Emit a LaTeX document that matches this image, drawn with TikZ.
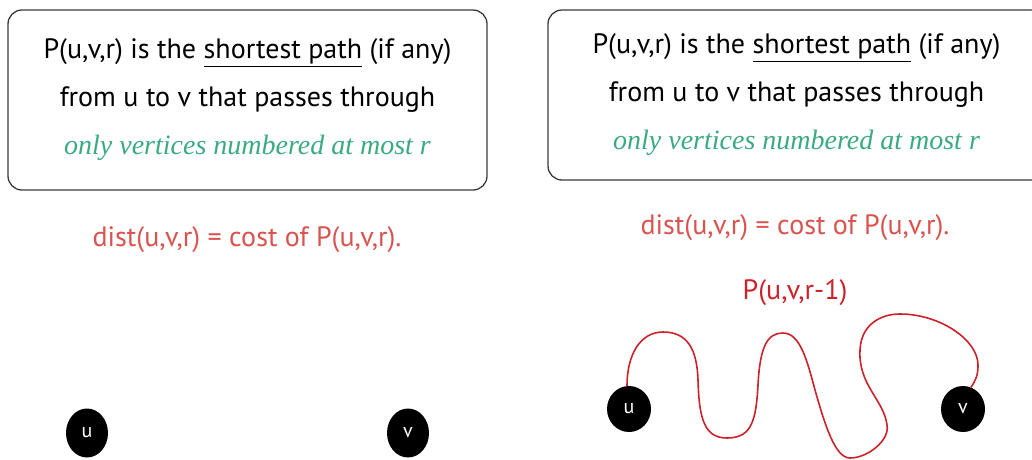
\documentclass[tikz,border=0pt]{standalone}
\usepackage{fontspec}
\setmainfont{PT Sans}
\newfontfamily\greenfont{Liberation Serif}
\usetikzlibrary{shapes.geometric}
\definecolor{distred}{HTML}{D9534F}
\definecolor{pathred}{HTML}{CC2229}
\definecolor{vgreen}{HTML}{3AAA80}
\definecolor{boxline}{HTML}{3A3A3A}
\tikzset{
  defbox/.style={draw=boxline, line width=1.3pt, rounded corners=14pt, align=center,
     font=\fontsize{28}{48}\selectfont, inner sep=0pt},
  vtx/.style={ellipse, fill=black, text=white, inner sep=0pt, font=\fontsize{20}{20}\selectfont},
  disttext/.style={text=distred, font=\fontsize{28}{30}\selectfont},
  pathlabel/.style={text=pathred, font=\fontsize{28}{30}\selectfont},
  wiggle/.style={draw=pathred, line width=1.6pt},
}
\newcommand{\boxtext}{P(u,v,r) is the \underline{shortest path} (if any)\\
from u to v that passes through\\
{\color{vgreen}\greenfont\itshape only vertices numbered at most r}}
\begin{document}
\begin{tikzpicture}[x=1pt,y=-1pt]
\useasboundingbox (0,0) rectangle (1032,459);
\node[defbox, minimum width=479pt, minimum height=180pt] (lbox) at (247.5,100) {\boxtext};
\node[defbox, minimum width=497pt, minimum height=170pt] (rbox) at (796.5,95) {\boxtext};
\node[disttext] (ldist) at (247,240) {dist(u,v,r) = cost of P(u,v,r).};
\node[disttext] (rdist) at (795,228) {dist(u,v,r) = cost of P(u,v,r).};
\node[vtx, minimum width=42pt, minimum height=49pt] (lu) at (87,433) {u};
\node[vtx, minimum width=42pt, minimum height=49pt] (lv) at (408,433) {v};
\node[vtx, minimum width=44pt, minimum height=46pt] (ru) at (629,409) {u};
\node[vtx, minimum width=44pt, minimum height=46pt] (rv) at (963,409) {v};
\node[pathlabel] (plab) at (795,293) {P(u,v,r-1)};
\draw[wiggle] (ru.95)
  .. controls (627,355) and (640,332) .. (663,332)
  .. controls (688,332) and (697,350) .. (698,380)
  .. controls (699,420) and (705,438) .. (727,438)
  .. controls (752,438) and (756,420) .. (758,385)
  .. controls (760,345) and (768,333) .. (783,333)
  .. controls (800,333) and (807,360) .. (815,390)
  .. controls (825,425) and (835,458) .. (850,458)
  .. controls (868,458) and (890,440) .. (887,425)
  .. controls (884,400) and (858,385) .. (860,350)
  .. controls (861,325) and (880,314) .. (900,314)
  .. controls (940,314) and (978,340) .. (978,365)
  .. controls (978,375) and (976,380) .. (rv.70);
\end{tikzpicture}
\end{document}
